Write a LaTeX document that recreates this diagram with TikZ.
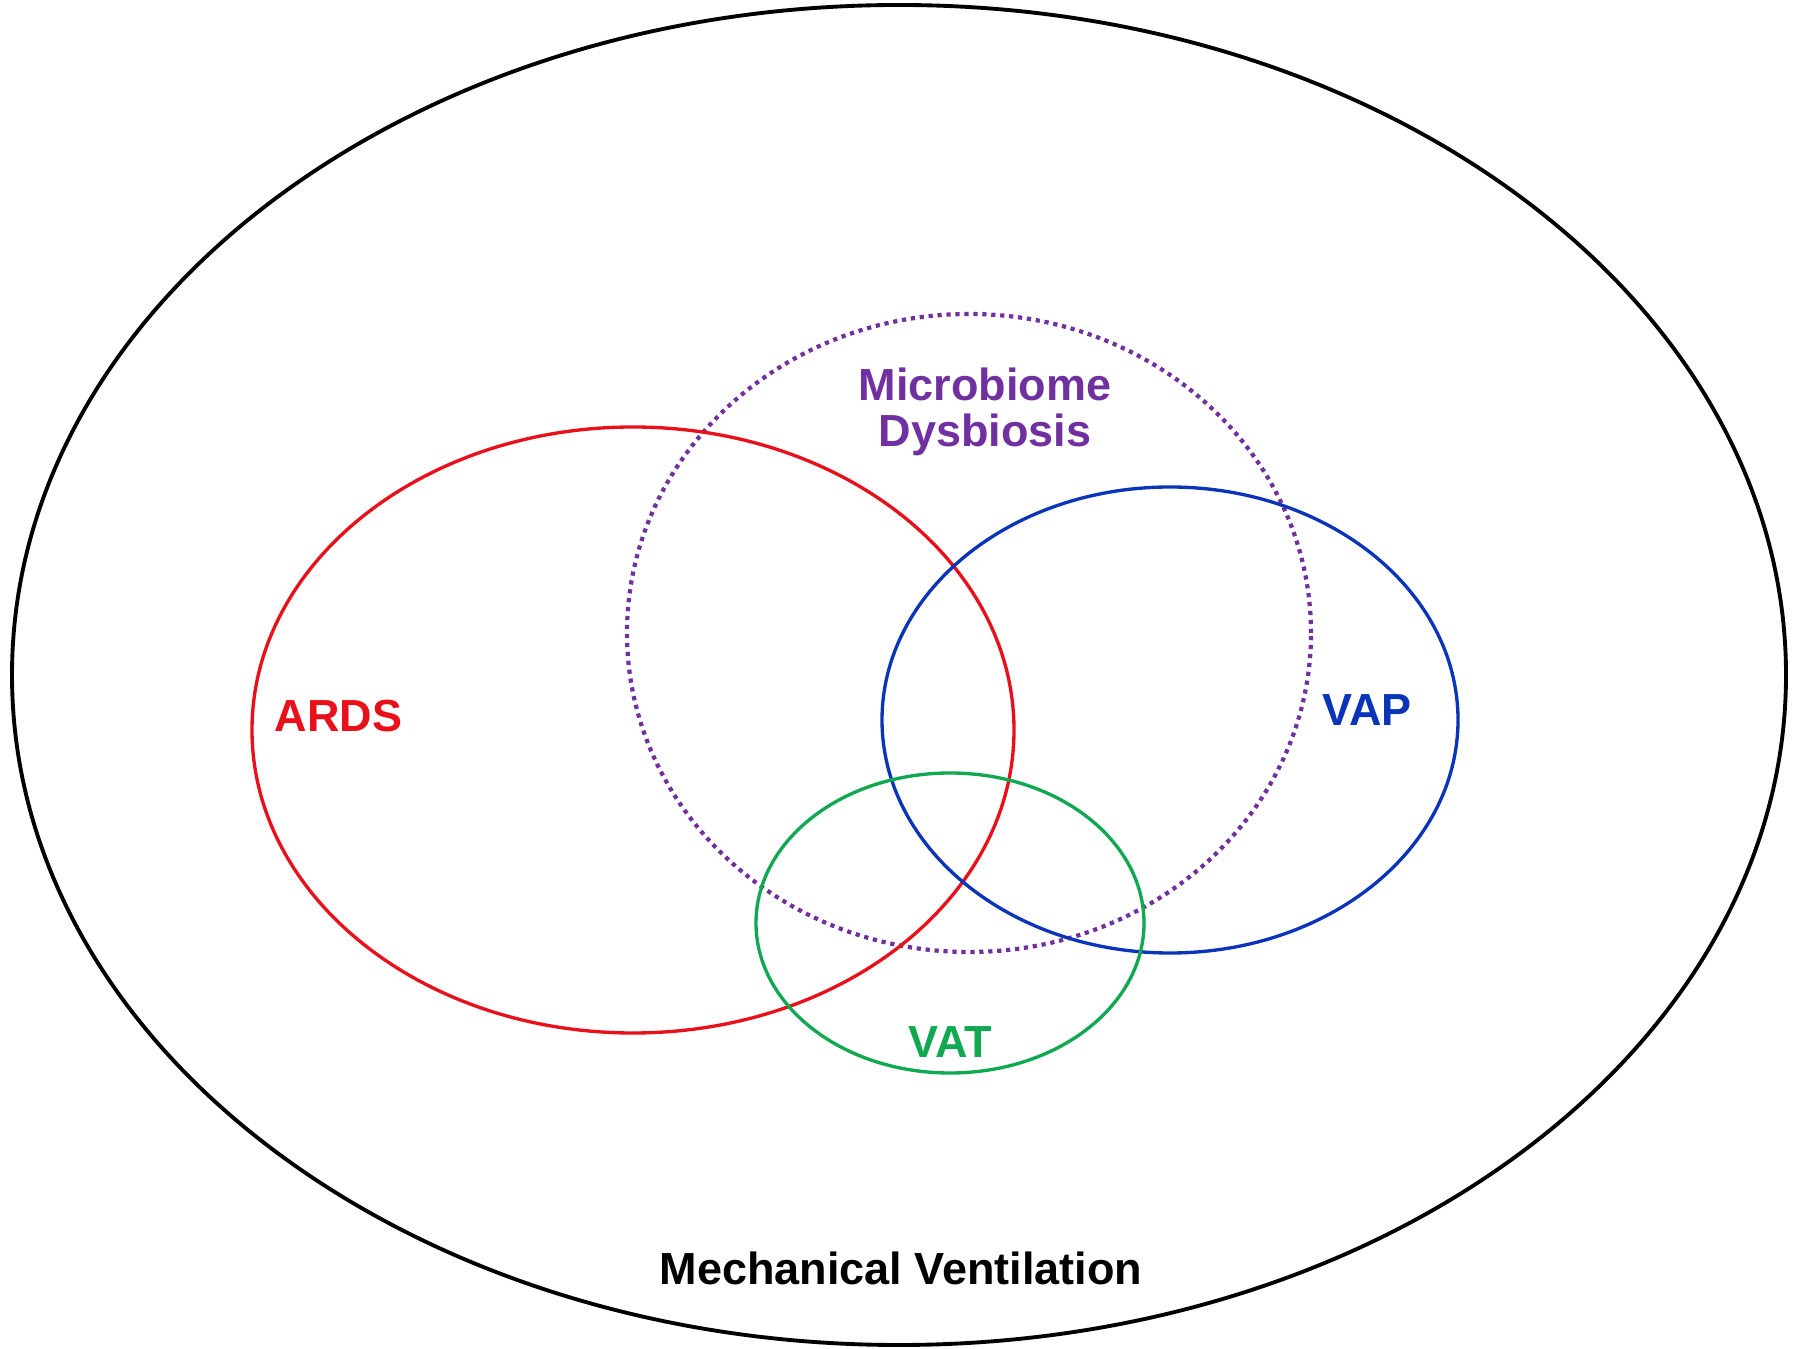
\documentclass[tikz,border=0pt]{standalone}
\usepackage{fontspec}
\setmainfont{Liberation Sans}
\definecolor{dysbio}{HTML}{7030A0}
\definecolor{ardsred}{HTML}{E8101A}
\definecolor{vapblue}{HTML}{0A35B8}
\definecolor{vatgreen}{HTML}{10A850}
\tikzset{
  lbl/.style={font=\fontsize{12.8}{12.9}\selectfont\bfseries, align=center},
}
\begin{document}
\begin{tikzpicture}[style=thick]
    \useasboundingbox (0cm,0cm) rectangle (17.93cm,13.48cm);
% outer set
    \coordinate (mv) at (8.99cm,6.73cm);
    \draw[line width=1.1pt] (mv) ellipse (8.87cm and 6.70cm);
    
% inner sets
    \coordinate (md) at (9.69cm,7.15cm);
    \coordinate (ards) at (6.33cm,6.18cm);
    \coordinate (vap) at (11.70cm,6.28cm);
    \coordinate (vat) at (9.50cm,4.25cm);
    
    \draw[dysbio, line width=1.2pt, dash pattern=on 1.2pt off 1.35pt] (md) ellipse (3.42cm and 3.19cm);
    \draw[ardsred, line width=0.95pt] (ards) ellipse (3.81cm and 3.03cm);
    \draw[vapblue, line width=0.95pt] (vap) ellipse (2.88cm and 2.33cm);
    \draw[vatgreen, line width=0.95pt] (vat) ellipse (1.94cm and 1.50cm);
    
% labels
    \node[lbl, dysbio] (mdlabel) at (9.85cm,9.36cm) {Microbiome\\Dysbiosis};
    \node[lbl, ardsred] (ardslabel) at (3.385cm,6.32cm) {ARDS};
    \node[lbl, vapblue] (vaplabel) at (13.67cm,6.38cm) {VAP};
    \node[lbl, vatgreen] (vatlabel) at (9.50cm,3.06cm) {VAT};
    \node[lbl] (mvlabel) at (9.01cm,0.80cm) {Mechanical Ventilation};
    
\end{tikzpicture}
\end{document}
